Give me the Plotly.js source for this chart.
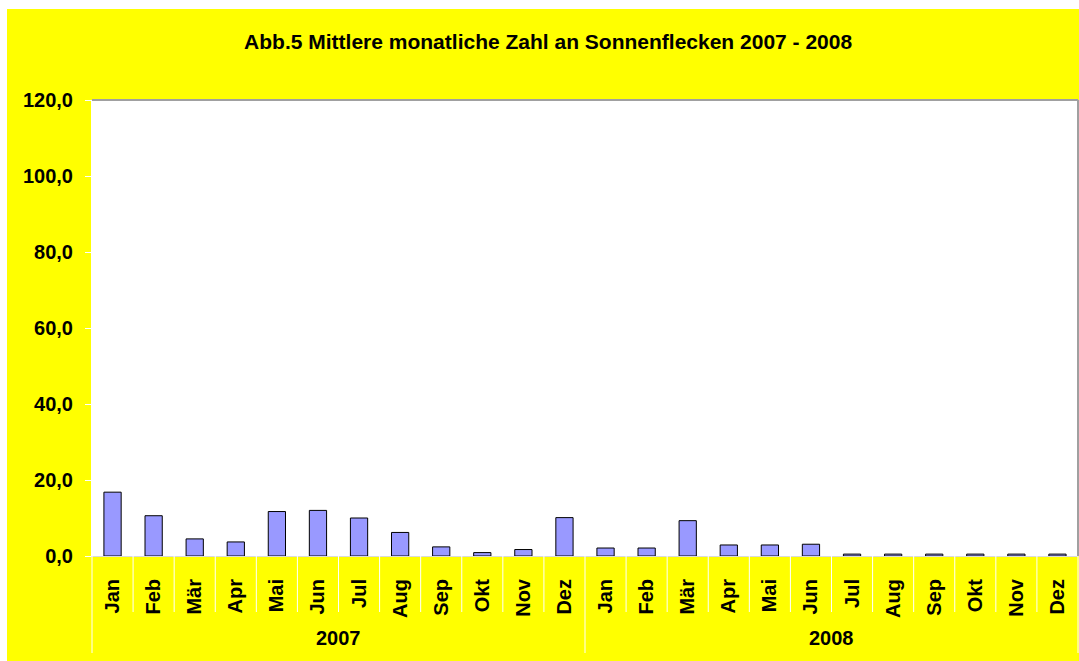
<!DOCTYPE html>
<html>
<head>
<meta charset="utf-8">
<script src="https://cdn.plot.ly/plotly-3.0.1.min.js"></script>
<style>html,body{margin:0;padding:0;background:#fff;}#chart{width:1079px;height:661px;}</style>
</head>
<body>
<div id="chart"></div>
<script>
const months = ["Jan","Feb","Mär","Apr","Mai","Jun","Jul","Aug","Sep","Okt","Nov","Dez",
                "Jan","Feb","Mär","Apr","Mai","Jun","Jul","Aug","Sep","Okt","Nov","Dez"];
const years = ["2007","2008"];
const sunspots = [16.8,10.6,4.5,3.7,11.7,12.0,10.0,6.2,2.4,0.9,1.7,10.1,
                  2.1,2.1,9.3,2.9,2.9,3.1,0.5,0.5,0.5,0.5,0.5,0.5];

const xIdx = months.map((m,i)=>i);
const FONT = '"Liberation Sans", Arial, sans-serif';

const shapes = [];
// white page margins (left/top)
shapes.push({type:'rect', xref:'paper', yref:'paper', x0:-0.1, x1:(7-92)/986, y0:-0.3, y1:1.25, fillcolor:'#ffffff', line:{width:0}, layer:'below'});
shapes.push({type:'rect', xref:'paper', yref:'paper', x0:-0.1, x1:1.01, y0:1+91/456, y1:1.25, fillcolor:'#ffffff', line:{width:0}, layer:'below'});
// category dividers
for (let i = 0; i <= months.length; i++) {
  const isYear = (i % 12 === 0);
  shapes.push({type:'line', xref:'paper', yref:'paper', x0:i/months.length, x1:i/months.length,
               y0:0, y1: isYear ? -(653-556)/456 : -(612-556)/456,
               line:{color:'#ffffff', width:1}});
}
// plot frame: top and right gray
shapes.push({type:'line', xref:'paper', yref:'paper', x0:0, x1:1, y0:1, y1:1, line:{color:'#a0a0a0', width:2}});
shapes.push({type:'line', xref:'paper', yref:'paper', x0:1, x1:1, y0:0, y1:1, line:{color:'#a0a0a0', width:2}});

const annotations = years.map((y, k) => ({
  text: y, xref:'x', yref:'paper', x: k*12 + 5.5, y: -(638-556)/456,
  showarrow:false, yanchor:'middle', xanchor:'center',
  font:{family:FONT, size:20, color:'#000', weight:'bold'}
}));

const trace = {
  type:'bar', x:xIdx, y:sunspots, width:0.42,
  marker:{color:'#9999ff', line:{color:'#000000', width:1}},
  hoverinfo:'skip'
};

const layout = {
  width:1079, height:661,
  margin:{l:92, r:1, t:100, b:105},
  paper_bgcolor:'#ffff00', plot_bgcolor:'#ffffff',
  separators:',.',
  showlegend:false,
  title:{text:'Abb.5 Mittlere monatliche Zahl an Sonnenflecken 2007 - 2008',
         xref:'container', x:0.508, xanchor:'center', yref:'container', y:1-42/661, yanchor:'middle',
         font:{family:FONT, size:21, color:'#000', weight:'bold'}},
  xaxis:{range:[-0.5, 23.5], tickvals:xIdx, ticktext:months, tickangle:-90,
         ticks:'', showgrid:false, zeroline:false, showline:true, linecolor:'#d9d9d9', linewidth:1,
         ticklabelstandoff:14,
         tickfont:{family:FONT, size:20, color:'#000', weight:'bold'}, fixedrange:true},
  yaxis:{range:[0,120], dtick:20, tick0:0, tickformat:'.1f', ticks:'outside', ticklen:6, tickcolor:'#ffffff',
         showgrid:false, zeroline:false, showline:true, linecolor:'#ffffff', linewidth:1,
         ticklabelstandoff:8,
         tickfont:{family:FONT, size:20, color:'#000', weight:'bold'}, fixedrange:true},
  shapes:shapes, annotations:annotations
};

Plotly.newPlot('chart', [trace], layout, {displayModeBar:false, staticPlot:true});
</script>
</body>
</html>
